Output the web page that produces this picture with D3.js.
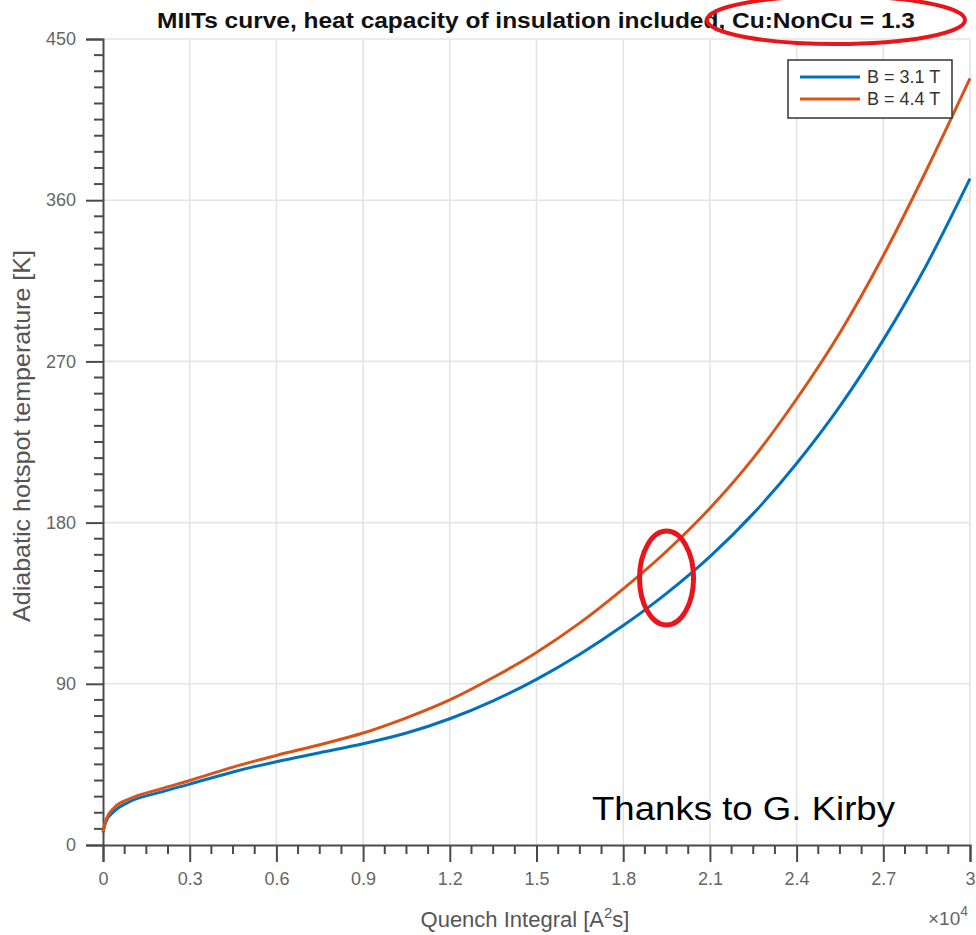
<!DOCTYPE html>
<html>
<head>
<meta charset="utf-8">
<script src="https://cdn.jsdelivr.net/npm/d3@7"></script>
<style>
  html, body { margin: 0; padding: 0; background: #fff; }
  svg { display: block; font-family: "Liberation Sans", Arial, sans-serif; }
</style>
</head>
<body>
<svg id="chart" width="976" height="935"></svg>
<script>
// Quench integral samples [A^2 s]
const quenchIntegral = [0, 100, 400, 900, 2000, 3000, 4500, 6000, 7500, 9000, 10500, 12000,
  13500, 15000, 16500, 18000, 19500, 21000, 22500, 24000, 25500, 27000, 28500, 30000];
// Adiabatic hotspot temperature [K] at B = 3.1 T
const tempB31 = [7, 13, 19, 24, 29.5, 34, 40.8, 46.5, 51.5, 56.5, 62.5, 70.5,
  80.5, 92.5, 106.5, 122.5, 140.5, 161, 185, 213, 245, 282, 324, 372];
// Adiabatic hotspot temperature [K] at B = 4.4 T
const tempB44 = [7.5, 14, 21, 25.7, 31.3, 36, 43.5, 50, 56, 62.5, 71, 81,
  93.5, 107.5, 124, 143, 164, 188, 216, 249, 286, 329, 377, 428];

const seriesNames = ["B = 3.1 T", "B = 4.4 T"];
const seriesColors = ["#0072BD", "#D95319"];

const xTickValues = [0, 3000, 6000, 9000, 12000, 15000, 18000, 21000, 24000, 27000, 30000];
const xTickLabels = ["0", "0.3", "0.6", "0.9", "1.2", "1.5", "1.8", "2.1", "2.4", "2.7", "3"];
const yTickValues = [0, 90, 180, 270, 360, 450];

const svg = d3.select("#chart");
const W = 976, H = 935;
const plot = { left: 103, right: 970, top: 39, bottom: 845 };

svg.append("rect").attr("width", W).attr("height", H).attr("fill", "#fff");

const x = d3.scaleLinear().domain([0, 30000]).range([plot.left, plot.right]);
const y = d3.scaleLinear().domain([0, 450]).range([plot.bottom, plot.top]);

const axisColor = "#4a4a4a";
const labelColor = "#666";

// grid
const grid = svg.append("g");
grid.selectAll("line.gx").data(xTickValues.slice(1)).join("line")
  .attr("x1", d => x(d)).attr("x2", d => x(d))
  .attr("y1", plot.top).attr("y2", plot.bottom)
  .attr("stroke", "#e4e4e4").attr("stroke-width", 1.6);
grid.selectAll("line.gy").data(yTickValues.slice(1)).join("line")
  .attr("y1", d => y(d)).attr("y2", d => y(d))
  .attr("x1", plot.left).attr("x2", plot.right)
  .attr("stroke", "#e4e4e4").attr("stroke-width", 1.6);

// x axis
const xMinor = d3.range(0, 30001, 750).filter(v => v % 3000 !== 0);
const xAxis = svg.append("g").attr("transform", `translate(0,${plot.bottom})`)
  .call(d3.axisBottom(x).tickValues(xTickValues)
    .tickFormat((d, i) => xTickLabels[i]).tickSize(17).tickPadding(10));
xAxis.select(".domain").attr("stroke", axisColor).attr("stroke-width", 2);
xAxis.selectAll(".tick line").attr("stroke", axisColor).attr("stroke-width", 2);
xAxis.selectAll(".tick text").attr("fill", labelColor).attr("font-size", 18)
  .attr("font-family", "Liberation Sans, Arial, sans-serif");
xAxis.selectAll("line.minor").data(xMinor).join("line").attr("class", "minor")
  .attr("x1", d => x(d)).attr("x2", d => x(d)).attr("y1", 0).attr("y2", 9)
  .attr("stroke", axisColor).attr("stroke-width", 2);

// y axis
const yMinor = d3.range(0, 451, 9).filter(v => v % 90 !== 0);
const yAxis = svg.append("g").attr("transform", `translate(${plot.left},0)`)
  .call(d3.axisLeft(y).tickValues(yTickValues).tickSize(17).tickPadding(10));
yAxis.select(".domain").attr("stroke", axisColor).attr("stroke-width", 2);
yAxis.selectAll(".tick line").attr("stroke", axisColor).attr("stroke-width", 2);
yAxis.selectAll(".tick text").attr("fill", labelColor).attr("font-size", 18)
  .attr("font-family", "Liberation Sans, Arial, sans-serif");
yAxis.selectAll("line.minor").data(yMinor).join("line").attr("class", "minor")
  .attr("y1", d => y(d)).attr("y2", d => y(d)).attr("x1", 0).attr("x2", -9)
  .attr("stroke", axisColor).attr("stroke-width", 2);

// curves
const line = d3.line().x(d => x(d[0])).y(d => y(d[1])).curve(d3.curveMonotoneX);
[tempB31, tempB44].forEach((temps, i) => {
  svg.append("path")
    .datum(quenchIntegral.map((q, k) => [q, temps[k]]))
    .attr("fill", "none").attr("stroke", seriesColors[i])
    .attr("stroke-width", 3).attr("stroke-linejoin", "round")
    .attr("d", line);
});

// legend
const lg = svg.append("g");
lg.append("rect").attr("x", 788).attr("y", 60).attr("width", 164).attr("height", 58)
  .attr("fill", "#fff").attr("stroke", "#333").attr("stroke-width", 1.5);
seriesNames.forEach((name, i) => {
  const ly = 77 + i * 22;
  lg.append("line").attr("x1", 800).attr("x2", 860).attr("y1", ly).attr("y2", ly)
    .attr("stroke", seriesColors[i]).attr("stroke-width", 3);
  lg.append("text").attr("x", 867).attr("y", ly).attr("dy", "0.35em")
    .attr("font-size", 18).attr("fill", "#333").text(name);
});

// title
svg.append("text").attr("x", 536).attr("y", 28).attr("text-anchor", "middle")
  .attr("font-size", 22).attr("font-weight", "bold").attr("fill", "#111")
  .attr("textLength", 758).attr("lengthAdjust", "spacingAndGlyphs")
  .text("MIITs curve, heat capacity of insulation included, Cu:NonCu = 1.3");

// axis titles
const xt = svg.append("text").attr("x", 525).attr("y", 927).attr("text-anchor", "middle")
  .attr("font-size", 22).attr("fill", "#555");
xt.append("tspan").text("Quench Integral [A");
xt.append("tspan").attr("font-size", 15).attr("dy", -9).text("2");
xt.append("tspan").attr("dy", 9).text("s]");

svg.append("text").attr("transform", "translate(30,436) rotate(-90)")
  .attr("text-anchor", "middle").attr("font-size", 24).attr("fill", "#555")
  .attr("textLength", 372).attr("lengthAdjust", "spacingAndGlyphs")
  .text("Adiabatic hotspot temperature [K]");

// exponent marker
const ex = svg.append("text").attr("x", 968).attr("y", 925).attr("text-anchor", "end")
  .attr("font-size", 19).attr("fill", labelColor);
ex.append("tspan").text("\u00d7");
ex.append("tspan").text("10");
ex.append("tspan").attr("font-size", 14).attr("dy", -9).text("4");

// credit
svg.append("text").attr("x", 592).attr("y", 820).attr("font-size", 33).attr("fill", "#000")
  .attr("textLength", 303).attr("lengthAdjust", "spacingAndGlyphs")
  .text("Thanks to G. Kirby");

// highlight rings
svg.append("ellipse").attr("cx", 836).attr("cy", 20).attr("rx", 129).attr("ry", 24)
  .attr("fill", "none").attr("stroke", "#e8161b").attr("stroke-width", 4);
svg.append("ellipse").attr("cx", x(19500)).attr("cy", y(149)).attr("rx", 27).attr("ry", 47)
  .attr("fill", "none").attr("stroke", "#e8161b").attr("stroke-width", 5);
</script>
</body>
</html>
